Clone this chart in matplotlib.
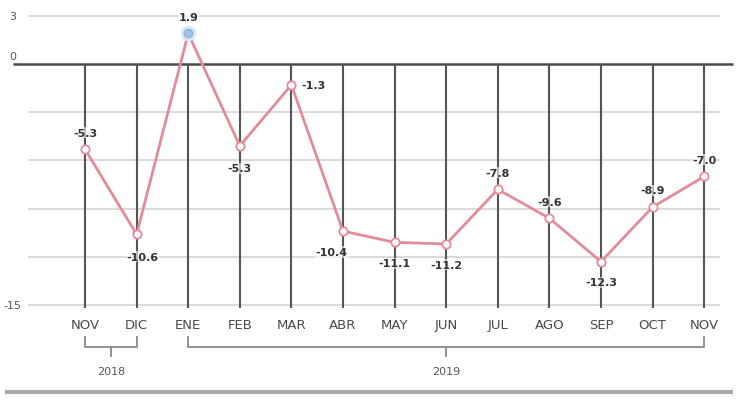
import matplotlib
matplotlib.use("Agg")
import matplotlib.pyplot as plt

months = ["NOV", "DIC", "ENE", "FEB", "MAR", "ABR", "MAY", "JUN", "JUL", "AGO", "SEP", "OCT", "NOV"]
values = [-5.3, -10.6, 1.9, -5.1, -1.3, -10.4, -11.1, -11.2, -7.8, -9.6, -12.3, -8.9, -7.0]
labels = ["-5.3", "-10.6", "1.9", "-5.3", "-1.3", "-10.4", "-11.1", "-11.2", "-7.8", "-9.6", "-12.3", "-8.9", "-7.0"]
yticks = [3, 0, -3, -6, -9, -12, -15]
ytick_labels = {3: "3", 0: "0", -15: "-15"}
years = ["2018", "2019"]
year_spans = [(0, 1), (2, 12)]

# label offsets (points)
offsets = [(0, 12), (4, -16), (0, 12), (0, -16), (16, 0), (-8, -15), (0, -15), (0, -15),
           (0, 12), (0, 12), (0, -15), (0, 12), (0, 12)]

fig = plt.figure(figsize=(7.43, 4.02), dpi=100)
ax = fig.add_axes([0, 0, 1, 1])
ax.set_xlim(-85 / 51.6, (743 - 85) / 51.6)
ax.set_ylim(-(402 - 65) / 16.07, 65 / 16.07)
ax.axis("off")

x = list(range(len(months)))

# horizontal gridlines
for t in yticks:
    if t == 0:
        ax.hlines(t, -1.4, 12.55, color="#4a4a4a", lw=1.8, zorder=2)
    else:
        ax.hlines(t, -1.1, 12.3, color="#d8d8d8", lw=1.3, zorder=1)
    if t in ytick_labels:
        ax.text(-1.4, t + (0.5 if t == 0 else 0), ytick_labels[t], ha="center", va="center",
                fontsize=8, color="#555555")

# vertical lines
for xi in x:
    ax.vlines(xi, -15.2, 0, color="#555555", lw=1.5, zorder=2)

# line
ax.plot(x, values, color="#e38c99", lw=2, zorder=3)
for xi, v in zip(x, values):
    if xi == 2:
        ax.plot(xi, v, "o", ms=10, color="#d6e8f7", zorder=4)
        ax.plot(xi, v, "o", ms=6, color="#9fc3e6", mec="#8ab4dc", zorder=5)
    else:
        ax.plot(xi, v, "o", ms=6, mfc="white", mec="#e58a98", mew=1.3, zorder=4)

for xi, v, lab, off in zip(x, values, labels, offsets):
    ax.annotate(lab, (xi, v), xytext=off, textcoords="offset points", ha="center", va="center",
                fontsize=8, fontweight="bold", color="#333333", zorder=6,
                bbox=dict(boxstyle="square,pad=0.05", fc="white", ec="none", alpha=0.6))

# month labels
for xi, m in zip(x, months):
    ax.text(xi, -16.2, m, ha="center", va="center", fontsize=9.5, color="#4a4a4a")

# brackets and years
for (a, b), yr in zip(year_spans, years):
    ax.plot([a, a, b, b], [-17.0, -17.6, -17.6, -17.0], color="#888888", lw=1.3)
    mid = (a + b) / 2
    ax.plot([mid, mid], [-17.6, -18.2], color="#888888", lw=1.3)
    ax.text(mid, -19.1, yr, ha="center", va="center", fontsize=8, color="#555555")

ax.hlines(-20.4, -1.55, 12.55, color="#aaaaaa", lw=3)

fig.savefig("out.png", dpi=100)
